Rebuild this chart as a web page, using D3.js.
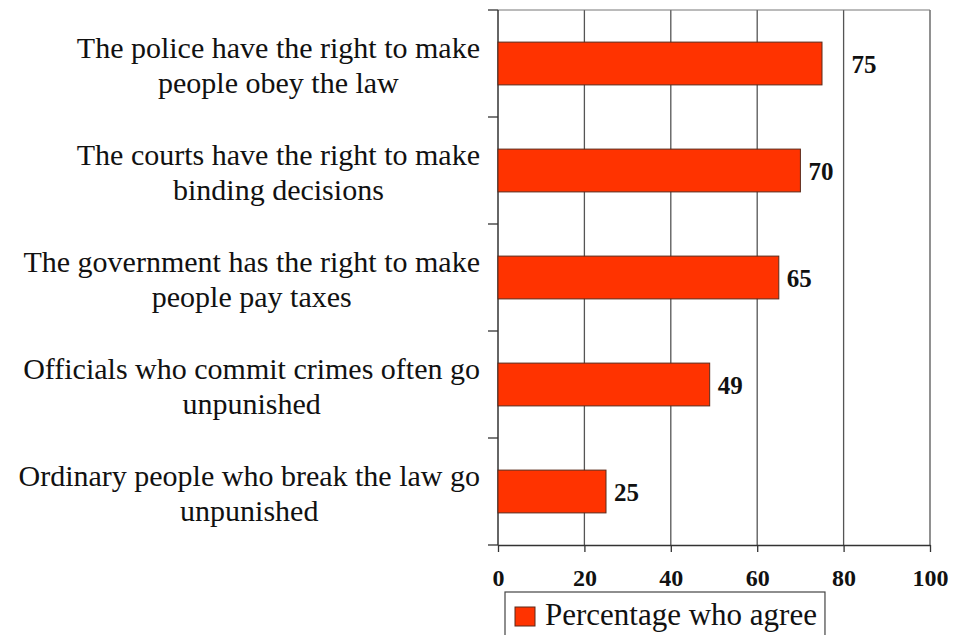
<!DOCTYPE html>
<html>
<head>
<meta charset="utf-8">
<script src="https://cdn.jsdelivr.net/npm/d3@7"></script>
<style>
  body { margin: 0; background: #fff; }
  text { font-family: "Liberation Serif", "Times New Roman", serif; fill: #111; }
</style>
</head>
<body>
<div id="chart"></div>
<script>
// chart data
const categories = [
  ["The police have the right to make", "people obey the law"],
  ["The courts have the right to make", "binding decisions"],
  ["The government has the right to make", "people pay taxes"],
  ["Officials who commit crimes often go", "unpunished"],
  ["Ordinary people who break the law go", "unpunished"]
];
const values = [75, 70, 65, 49, 25];
const xTicks = [0, 20, 40, 60, 80, 100];
const legendLabel = "Percentage who agree";

const width = 954;
const height = 635;
const margin = {left: 498, right: 24, top: 10, bottom: 90};

const svg = d3.select("#chart")
  .append("svg")
  .attr("width", width)
  .attr("height", height);

const idx = d3.range(values.length);

// scales
const x = d3.scaleLinear()
  .domain([0, 100])
  .range([margin.left, width - margin.right]);

const y = d3.scaleBand()
  .domain(idx)
  .range([margin.top, height - margin.bottom])
  .paddingInner(0.6)
  .paddingOuter(0.3);

const plotBottom = height - margin.bottom;

// vertical gridlines
svg.append("g")
  .selectAll("line")
  .data(xTicks.slice(1))
  .join("line")
    .attr("x1", d => x(d)).attr("x2", d => x(d))
    .attr("y1", margin.top).attr("y2", plotBottom)
    .attr("stroke", "#555")
    .attr("stroke-width", 1.3);

// top frame line
svg.append("line")
  .attr("x1", x(0)).attr("x2", x(100))
  .attr("y1", margin.top).attr("y2", margin.top)
  .attr("stroke", "#777")
  .attr("stroke-width", 1);

// bottom axis
const xAxis = svg.append("g")
  .attr("transform", `translate(0,${plotBottom})`)
  .call(d3.axisBottom(x).tickValues(xTicks).tickSize(7).tickPadding(17).tickSizeOuter(0));
xAxis.attr("font-family", null);
xAxis.select(".domain").attr("stroke", "#333").attr("stroke-width", 1.5);
xAxis.selectAll(".tick line").attr("stroke", "#333").attr("stroke-width", 1.3);
xAxis.selectAll(".tick text")
  .attr("font-size", 24)
  .attr("font-weight", "bold")
  .attr("fill", "#111");

// left axis with ticks at category boundaries
const boundaries = idx.map(i => y(i) - y.step() * 0.3).concat([plotBottom]);
svg.append("line")
  .attr("x1", x(0)).attr("x2", x(0))
  .attr("y1", margin.top).attr("y2", plotBottom)
  .attr("stroke", "#333").attr("stroke-width", 1.5);
svg.append("g")
  .selectAll("line")
  .data(boundaries)
  .join("line")
    .attr("x1", x(0) - 10).attr("x2", x(0))
    .attr("y1", d => d).attr("y2", d => d)
    .attr("stroke", "#333").attr("stroke-width", 1.3);

// bars
svg.selectAll(".bar")
  .data(values)
  .join("rect")
    .attr("class", "bar")
    .attr("x", x(0))
    .attr("y", (d, i) => y(i))
    .attr("width", d => x(d) - x(0))
    .attr("height", y.bandwidth())
    .attr("fill", "#ff3300")
    .attr("stroke", "#5a2a1a")
    .attr("stroke-width", 1);

// value labels, nudged past a gridline if they would sit on one
const vals = svg.selectAll(".val")
  .data(values)
  .join("text")
    .attr("class", "val")
    .attr("y", (d, i) => y(i) + y.bandwidth() / 2 + 1)
    .attr("dy", "0.35em")
    .attr("font-size", 25)
    .attr("font-weight", "bold")
    .text(d => d);
vals.each(function(d) {
  const w = this.getComputedTextLength();
  let start = x(d) + 8;
  xTicks.forEach(t => {
    const gx = x(t);
    if (gx > start && gx < start + w) start = gx + 8;
  });
  d3.select(this).attr("x", start);
});

// category labels: block right-aligned, lines centered within block
const labelRight = 480;
const lineGap = 35;
categories.forEach((lines, i) => {
  const g = svg.append("g");
  const cy = y(i) + y.bandwidth() / 2 + 1;
  const texts = g.selectAll("text")
    .data(lines)
    .join("text")
      .attr("font-size", 30)
      .attr("text-anchor", "middle")
      .attr("y", (d, j) => cy + (j - (lines.length - 1) / 2) * lineGap)
      .attr("dy", "0.35em")
      .text(d => d);
  const maxW = d3.max(texts.nodes(), n => n.getComputedTextLength());
  texts.attr("x", labelRight - maxW / 2);
});

// legend
const legend = svg.append("g").attr("transform", "translate(505,592)");
const legText = legend.append("text")
  .attr("x", 40)
  .attr("y", 22)
  .attr("dy", "0.35em")
  .attr("font-size", 31)
  .text(legendLabel);
const lw = legText.node().getComputedTextLength();
legend.insert("rect", "text")
  .attr("x", 0).attr("y", 0)
  .attr("width", 40 + lw + 8).attr("height", 50)
  .attr("fill", "#fff")
  .attr("stroke", "#444")
  .attr("stroke-width", 1.2);
legend.append("rect")
  .attr("x", 10).attr("y", 15)
  .attr("width", 20).attr("height", 19)
  .attr("fill", "#ff3300")
  .attr("stroke", "#5a2a1a")
  .attr("stroke-width", 1);
</script>
</body>
</html>
